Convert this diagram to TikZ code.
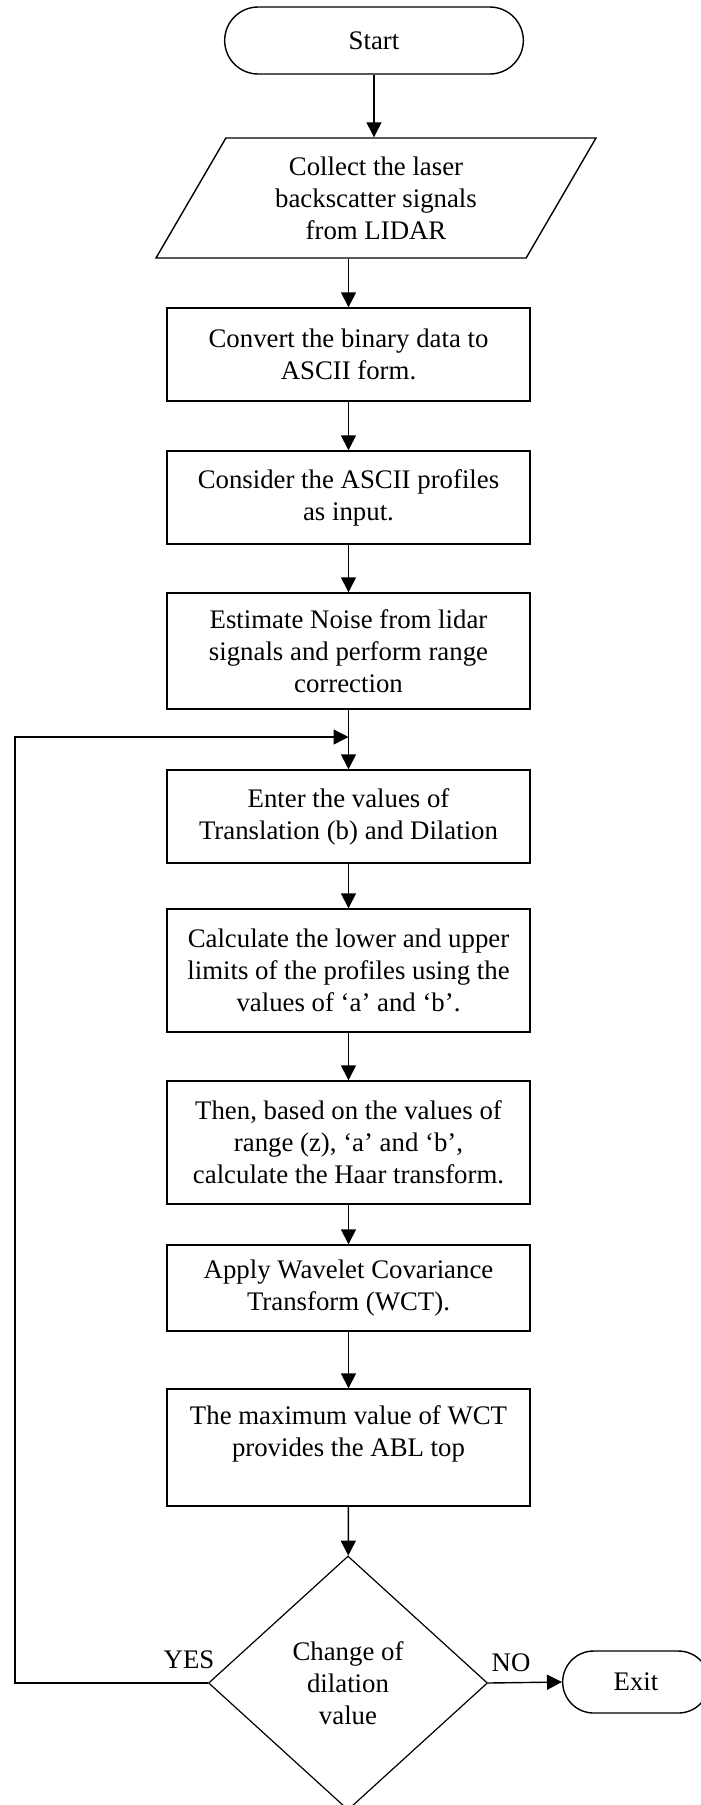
\documentclass[tikz,border=0pt]{standalone}
\usepackage{fontspec}
\setmainfont{Liberation Serif}
\usetikzlibrary{shapes.geometric,shapes.misc,arrows.meta}
\tikzset{
  every node/.style={font=\fontsize{13.4}{16}\selectfont, align=center},
  proc/.style={draw, line width=0.7pt, minimum width=181.5pt, inner sep=2pt},
  term/.style={draw, line width=0.7pt, rounded rectangle},
  io/.style={draw, line width=0.7pt, trapezium, trapezium left angle=54,
    trapezium right angle=126, trapezium stretches body,
    minimum width=220pt, minimum height=60pt},
  decide/.style={draw, line width=0.6pt, diamond, minimum width=139.5pt,
    minimum height=127pt, inner sep=0pt},
  arr/.style={-{Triangle[width=7.5pt,length=7.5pt]}, line width=0.7pt}
}
\begin{document}
\begin{tikzpicture}[x=0.5pt,y=-0.5pt]
   \useasboundingbox (0,0) rectangle (701,1805);
   \node[term, minimum width=156pt, minimum height=33.5pt] (start) at (374,40.5) {Start};
   \node[io] (collect) at (376,198) {Collect the laser\\backscatter signals\\from LIDAR};
   \node[proc, minimum height=46.5pt] (convert) at (348.5,354.5) {Convert the binary data to\\ASCII form.};
   \node[proc, minimum height=46.5pt] (consider) at (348.5,497.5) {Consider the ASCII profiles\\as input.};
   \node[proc, minimum height=58pt] (noise) at (348.5,651) {Estimate Noise from lidar\\signals and perform range\\correction};
   \node[proc, minimum height=46.5pt] (enter) at (348.5,816.5) {Enter the values of\\Translation (b) and Dilation};
   \node[proc, minimum height=61.5pt] (calc) at (348.5,970.5) {Calculate the lower and upper\\limits of the profiles using the\\values of ‘a’ and ‘b’.};
   \node[proc, minimum height=61.5pt] (haar) at (348.5,1142.5) {Then, based on the values of\\range (z), ‘a’ and ‘b’,\\calculate the Haar transform.};
   \node[proc, minimum height=43pt] (wct) at (348.5,1288) {Apply Wavelet Covariance\\Transform (WCT).};
   \node[proc, minimum height=58.5pt] (abl) at (348.5,1447.5) {The maximum value of WCT\\provides the ABL top\\~};
   \node[decide] (dec) at (348,1683) {Change of\\dilation\\value};
   \node[term, minimum width=80pt, minimum height=31pt] (exit) at (636,1682) {Exit};
   \node (yes) at (189,1660) {YES};
   \node (no) at (511,1663) {NO};
   \coordinate (corner) at (15,737);
   \coordinate (join) at (348.5,737);
   \draw[arr] (start.south) -- (start.south |- collect.north);
   \draw[arr] (convert.north |- collect.south) -- (convert.north);
   \foreach \a/\b in {convert/consider, consider/noise, noise/enter, enter/calc,
                      calc/haar, haar/wct, wct/abl, abl/dec}
     \draw[arr] (\a) -- (\b);
   \draw[arr] (dec.west) -| (corner) -- (join);
   \draw[arr] (dec.east) -- (exit.west);
\end{tikzpicture}
\end{document}
